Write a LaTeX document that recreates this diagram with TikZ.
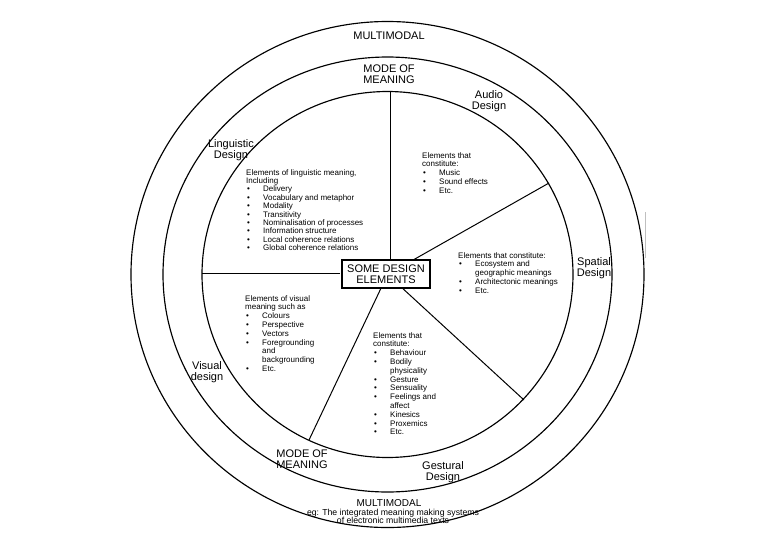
\documentclass[tikz,border=0pt]{standalone}
\usepackage{fontspec}
\setmainfont{Liberation Sans}
\newcommand{\myitem}{\hspace*{1pt}\makebox[16pt][l]{•}}
\newcommand{\mycont}{\hspace*{17pt}}
\tikzset{
  ring/.style={line width=1.15pt},
  divider/.style={line width=1pt},
  lbl/.style={align=center, inner sep=0pt, font=\fontsize{11}{11.5}\selectfont},
  blk/.style={align=left, anchor=north west, inner sep=0pt, font=\fontsize{8}{8.8}\selectfont},
  centerbox/.style={draw, line width=1.1pt, fill=white, align=center, minimum width=88pt, minimum height=28pt, inner sep=0pt, font=\fontsize{11}{10.5}\selectfont}
}
\begin{document}
\begin{tikzpicture}[x=1pt, y=-1pt]
\useasboundingbox (0,0) rectangle (777,547);
\coordinate (c) at (387.5,274.5);
% rings
\draw[ring] (c) ellipse [x radius=256.5pt, y radius=253pt];
\draw[ring] (c) ellipse [x radius=224.5pt, y radius=217.5pt];
\draw[ring] (c) ellipse [x radius=185.5pt, y radius=183pt];
% divider end points
\coordinate (ctop) at (390,262);
\coordinate (etop) at (390,92);
\coordinate (cleft) at (340,273);
\coordinate (eleft) at (202,273);
\coordinate (eur) at (549,183);
\coordinate (ell) at (309,440);
\coordinate (elr) at (524,400);
\draw[divider] (ctop) -- (etop);
\draw[divider] (cleft) -- (eleft);
\draw[divider] (c) -- (eur);
\draw[divider] (c) -- (ell);
\draw[divider] (c) -- (elr);
% faint scan line
\coordinate (g1) at (645,212);
\coordinate (g2) at (645,258);
\draw[gray!50, line width=1pt] (g1) -- (g2);
% centre box
\node[centerbox] (box) at (386,274) {SOME DESIGN\\ELEMENTS};
% ring labels
\node[lbl] (mmtop) at (389,36) {MULTIMODAL};
\node[lbl] (modetop) at (389,74) {MODE OF\\MEANING};
\node[lbl] (audio) at (489,101) {Audio\\Design};
\node[lbl] (ling) at (231,150) {Linguistic\\Design};
\node[lbl] (spatial) at (594,268) {Spatial\\Design};
\node[lbl] (visual) at (207,372) {Visual\\design};
\node[lbl] (modebot) at (302,459) {MODE OF\\MEANING};
\node[lbl] (gest) at (443,472) {Gestural\\Design};
\node[lbl, font=\fontsize{10}{11}\selectfont] (mmbot) at (389,503) {MULTIMODAL};
\node[lbl, font=\fontsize{8.7}{8.5}\selectfont] (eg) at (393,516.5) {eg: The integrated meaning making systems\\of electronic multimedia texts};
% sector text blocks
\node[blk, font=\fontsize{8}{8.4}\selectfont] (lingtxt) at (246,169) {Elements of linguistic meaning,\\Including\\
\myitem Delivery\\
\myitem Vocabulary and metaphor\\
\myitem Modality\\
\myitem Transitivity\\
\myitem Nominalisation of processes\\
\myitem Information structure\\
\myitem Local coherence relations\\
\myitem Global coherence relations};
\node[blk] (audiotxt) at (422,152) {Elements that\\constitute:\\
\myitem Music\\
\myitem Sound effects\\
\myitem Etc.};
\node[blk] (spattxt) at (458,252) {Elements that constitute:\\
\myitem Ecosystem and\\
\mycont geographic meanings\\
\myitem Architectonic meanings\\
\myitem Etc.};
\node[blk] (vistxt) at (245,295) {Elements of visual\\meaning such as\\
\myitem Colours\\
\myitem Perspective\\
\myitem Vectors\\
\myitem Foregrounding\\
\mycont and\\
\mycont backgrounding\\
\myitem Etc.};
\node[blk] (gesttxt) at (373,332) {Elements that\\constitute:\\
\myitem Behaviour\\
\myitem Bodily\\
\mycont physicality\\
\myitem Gesture\\
\myitem Sensuality\\
\myitem Feelings and\\
\mycont affect\\
\myitem Kinesics\\
\myitem Proxemics\\
\myitem Etc.};
\end{tikzpicture}
\end{document}
